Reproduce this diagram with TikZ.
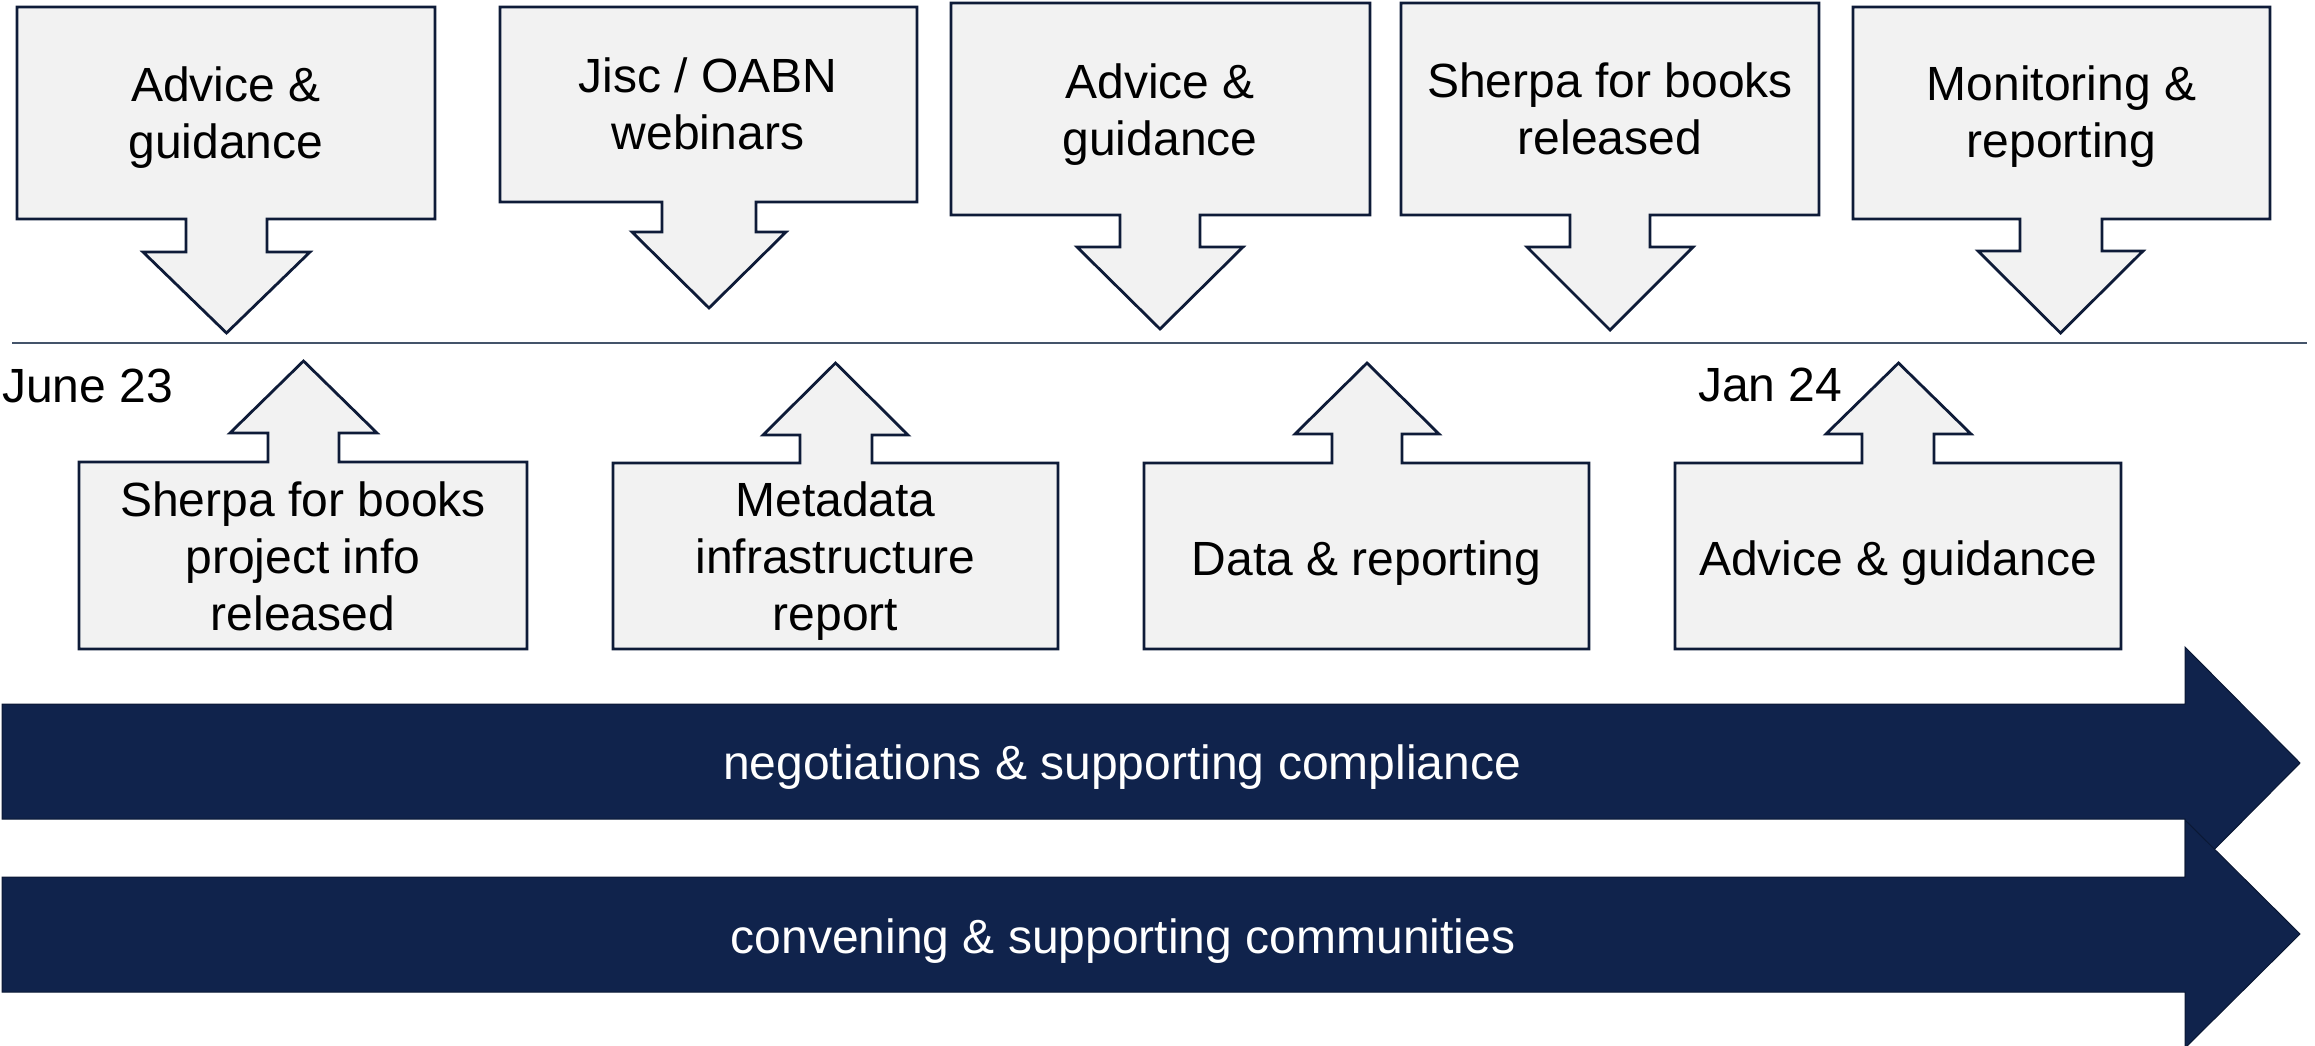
\documentclass[tikz,border=0pt]{standalone}
\usepackage{fontspec}
\setmainfont{Liberation Sans}
\definecolor{navy}{RGB}{16,35,76}
\definecolor{navyedge}{RGB}{10,24,52}
\definecolor{boxfill}{RGB}{242,242,242}
\definecolor{boxline}{RGB}{14,27,56}
\definecolor{tline}{RGB}{68,84,106}
\tikzset{
  callout/.style={draw=boxline, fill=boxfill, line width=2.8pt, line join=miter},
  lbl/.style={font=\fontsize{48}{57}\selectfont, align=center, inner sep=0pt, text=black,
    execute at begin node=\strut, execute at end node=\strut},
  datelbl/.style={font=\fontsize{48}{57}\selectfont, inner sep=0pt, anchor=base west, text=black},
  bigarrow/.style={fill=navy, draw=navyedge, line width=1pt, line join=miter},
  barlbl/.style={font=\fontsize{48}{57}\selectfont, text=white, inner sep=0pt, anchor=base},
  timeline/.style={draw=tline, line width=2pt},
}
\begin{document}
\begin{tikzpicture}[x=1pt,y=-1pt]
\useasboundingbox (0,0) rectangle (2315,1046);

% timeline
\coordinate (tl0) at (12,343);
\coordinate (tl1) at (2307,343);
\draw[timeline] (tl0) -- (tl1);

% top callouts (pointing down)
\draw[callout] (17,7)--(435,7)--(435,219)--(267,219)--(267,252)--(310,252)--(226.5,333)--(143,252)--(186,252)--(186,219)--(17,219)--cycle;
\draw[callout] (500,7)--(917,7)--(917,202)--(756,202)--(756,232)--(786,232)--(709,308)--(632,232)--(662,232)--(662,202)--(500,202)--cycle;
\draw[callout] (951,3)--(1370,3)--(1370,215)--(1200,215)--(1200,247)--(1243,247)--(1160,329)--(1077,247)--(1120,247)--(1120,215)--(951,215)--cycle;
\draw[callout] (1401,3)--(1819,3)--(1819,215)--(1650,215)--(1650,247)--(1693,247)--(1610,330)--(1527,247)--(1570,247)--(1570,215)--(1401,215)--cycle;
\draw[callout] (1853,7)--(2270,7)--(2270,219)--(2102,219)--(2102,251)--(2143,251)--(2060.5,333)--(1978,251)--(2020,251)--(2020,219)--(1853,219)--cycle;

% bottom callouts (pointing up)
\draw[callout] (79,649)--(527,649)--(527,462)--(339,462)--(339,433)--(377,433)--(303.5,361)--(230,433)--(268,433)--(268,462)--(79,462)--cycle;
\draw[callout] (613,649)--(1058,649)--(1058,463)--(872,463)--(872,435)--(908,435)--(835.5,363)--(763,435)--(800,435)--(800,463)--(613,463)--cycle;
\draw[callout] (1144,649)--(1589,649)--(1589,463)--(1402,463)--(1402,434)--(1439,434)--(1367,363)--(1295,434)--(1332,434)--(1332,463)--(1144,463)--cycle;
\draw[callout] (1675,649)--(2121,649)--(2121,463)--(1934,463)--(1934,434)--(1971,434)--(1898.5,363)--(1826,434)--(1862,434)--(1862,463)--(1675,463)--cycle;

% labels
\node[lbl] (t1) at (226,121.6) {Advice \&\\guidance};
\node[lbl] (t2) at (708,112.6) {Jisc / OABN\\webinars};
\node[lbl] (t3) at (1160,118.1) {Advice \&\\guidance};
\node[lbl] (t4) at (1610,117.6) {Sherpa for books\\released};
\node[lbl] (t5) at (2061.5,120.1) {Monitoring \&\\reporting};

\node[lbl] (b1) at (303,564.6) {Sherpa for books\\project info\\released};
\node[lbl] (b2) at (835.5,565.1) {Metadata\\infrastructure\\report};
\node[lbl] (b3) at (1366.5,563.6) {Data \& reporting};
\node[lbl] (b4) at (1898,563.6) {Advice \& guidance};

\node[datelbl] (june) at (2,402) {June 23};
\node[datelbl] (jan) at (1698,401) {Jan 24};

% big arrows
\draw[bigarrow] (2,704)--(2185,704)--(2185,647)--(2300,763)--(2185,879)--(2185,819)--(2,819)--cycle;
\draw[bigarrow] (2,877)--(2185,877)--(2185,820)--(2300,934)--(2185,1048)--(2185,992)--(2,992)--cycle;

\node[barlbl] (bar1) at (1122,779) {negotiations \& supporting compliance};
\node[barlbl] (bar2) at (1123,953) {convening \& supporting communities};
\end{tikzpicture}
\end{document}
